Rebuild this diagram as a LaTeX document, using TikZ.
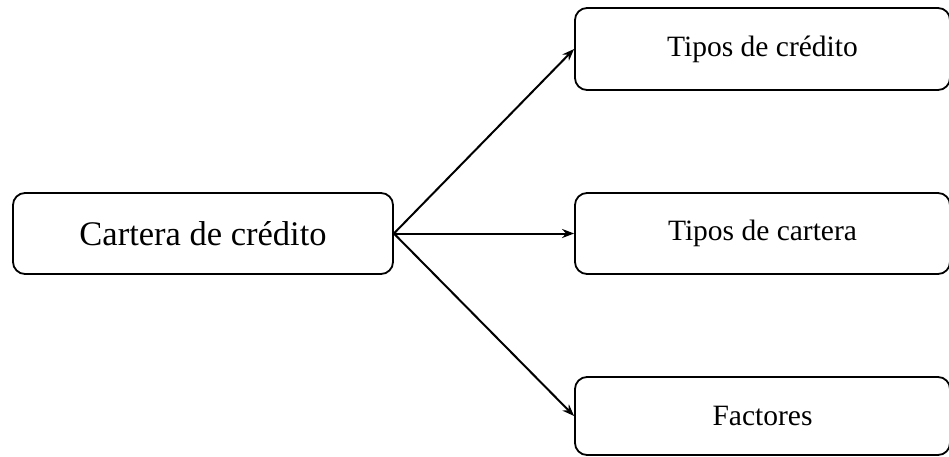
\documentclass[tikz,border=0pt]{standalone}
\usepackage{fontspec}
\setmainfont{Liberation Serif}
\usetikzlibrary{arrows.meta}
\begin{document}
\begin{tikzpicture}[x=1pt,y=-1pt,
  box/.style={draw, line width=1.8pt, rounded corners=12pt, inner sep=0pt, align=center},
  conn/.style={line width=2pt, -{Stealth[length=12pt,width=9pt]}}]
\useasboundingbox (0,0) rectangle (949,457);
\clip (0,0) rectangle (949,457);
\node[box, minimum width=380pt, minimum height=81pt, font=\fontsize{34.5}{40}\selectfont] (src) at (203,233.5) {Cartera de crédito};
\node[box, minimum width=375pt, minimum height=82pt, font=\fontsize{29.5}{34}\selectfont] (t1) at (762.5,49) {Tipos de crédito};
\node[box, minimum width=375pt, minimum height=81pt, font=\fontsize{29.5}{34}\selectfont] (t2) at (762.5,233.5) {Tipos de cartera};
\node[box, minimum width=375pt, minimum height=78pt, font=\fontsize{29.5}{34}\selectfont] (t3) at (762.5,416) {Factores};
\draw[conn] (src.east) -- (t1.west);
\draw[conn] (src.east) -- (t2.west);
\draw[conn] (src.east) -- (t3.west);
\end{tikzpicture}
\end{document}
